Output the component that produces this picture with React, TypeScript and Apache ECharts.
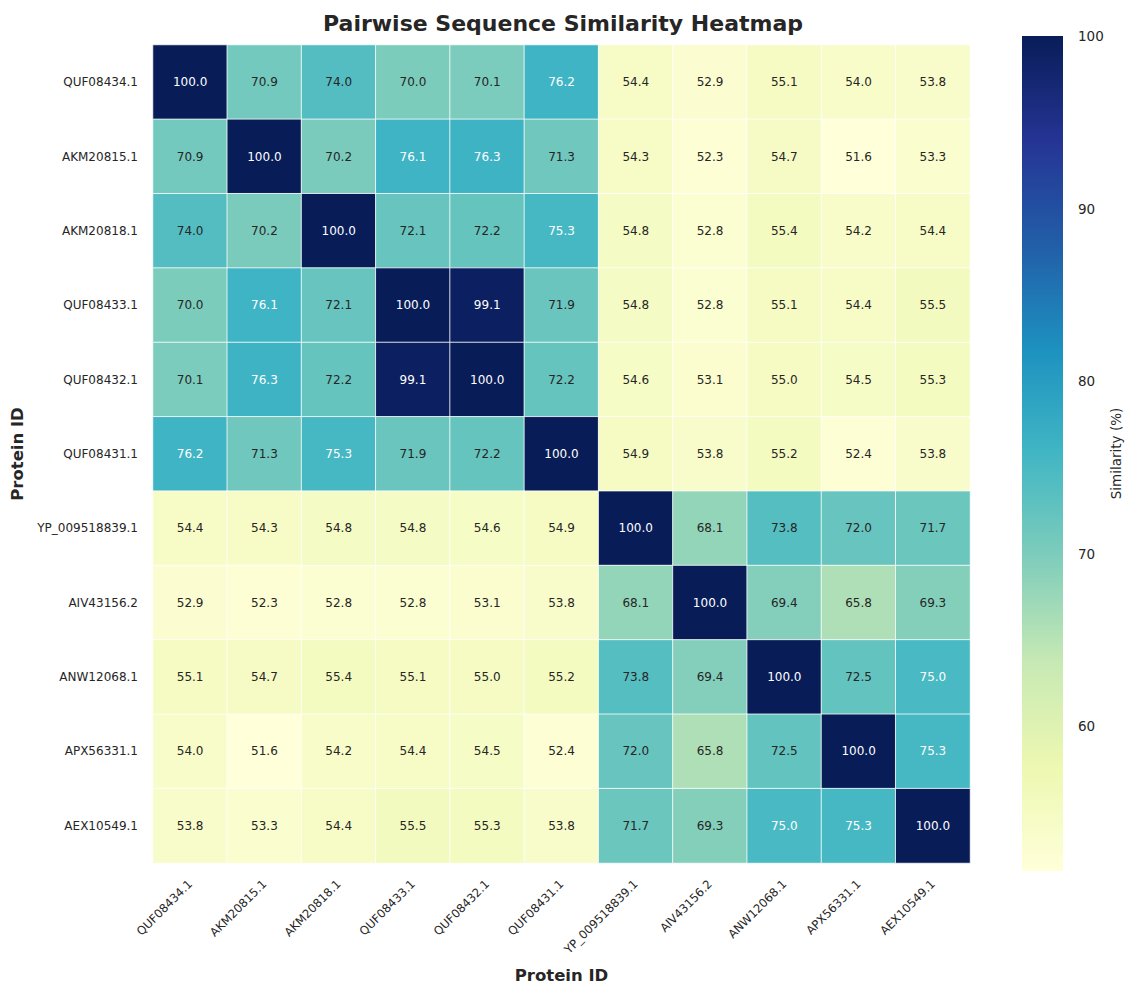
import React, { useEffect, useRef } from "react";
import * as echarts from "echarts";

const proteins = [
  "QUF08434.1",
  "AKM20815.1",
  "AKM20818.1",
  "QUF08433.1",
  "QUF08432.1",
  "QUF08431.1",
  "YP_009518839.1",
  "AIV43156.2",
  "ANW12068.1",
  "APX56331.1",
  "AEX10549.1",
];

const rowQUF08434 = [100.0, 70.9, 74.0, 70.0, 70.1, 76.2, 54.4, 52.9, 55.1, 54.0, 53.8];
const rowAKM20815 = [70.9, 100.0, 70.2, 76.1, 76.3, 71.3, 54.3, 52.3, 54.7, 51.6, 53.3];
const rowAKM20818 = [74.0, 70.2, 100.0, 72.1, 72.2, 75.3, 54.8, 52.8, 55.4, 54.2, 54.4];
const rowQUF08433 = [70.0, 76.1, 72.1, 100.0, 99.1, 71.9, 54.8, 52.8, 55.1, 54.4, 55.5];
const rowQUF08432 = [70.1, 76.3, 72.2, 99.1, 100.0, 72.2, 54.6, 53.1, 55.0, 54.5, 55.3];
const rowQUF08431 = [76.2, 71.3, 75.3, 71.9, 72.2, 100.0, 54.9, 53.8, 55.2, 52.4, 53.8];
const rowYP009518839 = [54.4, 54.3, 54.8, 54.8, 54.6, 54.9, 100.0, 68.1, 73.8, 72.0, 71.7];
const rowAIV43156 = [52.9, 52.3, 52.8, 52.8, 53.1, 53.8, 68.1, 100.0, 69.4, 65.8, 69.3];
const rowANW12068 = [55.1, 54.7, 55.4, 55.1, 55.0, 55.2, 73.8, 69.4, 100.0, 72.5, 75.0];
const rowAPX56331 = [54.0, 51.6, 54.2, 54.4, 54.5, 52.4, 72.0, 65.8, 72.5, 100.0, 75.3];
const rowAEX10549 = [53.8, 53.3, 54.4, 55.5, 55.3, 53.8, 71.7, 69.3, 75.0, 75.3, 100.0];

const matrix = [
  rowQUF08434,
  rowAKM20815,
  rowAKM20818,
  rowQUF08433,
  rowQUF08432,
  rowQUF08431,
  rowYP009518839,
  rowAIV43156,
  rowANW12068,
  rowAPX56331,
  rowAEX10549,
];

const colorbarTicks = [60, 70, 80, 90, 100];

const ylgnbu = [
  "#ffffd9",
  "#edf8b1",
  "#c7e9b4",
  "#7fcdbb",
  "#41b6c4",
  "#1d91c0",
  "#225ea8",
  "#253494",
  "#081d58",
];

const FONT = "DejaVu Sans";
const TEXT = "#262626";

function hexToRgb(h: string) {
  return [parseInt(h.slice(1, 3), 16), parseInt(h.slice(3, 5), 16), parseInt(h.slice(5, 7), 16)];
}

function cmap(t: number) {
  const tt = Math.max(0, Math.min(1, t)) * (ylgnbu.length - 1);
  const i = Math.min(ylgnbu.length - 2, Math.floor(tt));
  const f = tt - i;
  const a = hexToRgb(ylgnbu[i]);
  const b = hexToRgb(ylgnbu[i + 1]);
  return a.map((v, k) => v + (b[k] - v) * f);
}

function luminance(rgb: number[]) {
  const lin = rgb.map((c) => {
    const s = c / 255;
    return s <= 0.03928 ? s / 12.92 : Math.pow((s + 0.055) / 1.055, 2.4);
  });
  return 0.2126 * lin[0] + 0.7152 * lin[1] + 0.0722 * lin[2];
}

export default function App() {
  const ref = useRef<HTMLDivElement>(null);

  useEffect(() => {
    if (!ref.current) return;
    const chart = echarts.init(ref.current, null, { renderer: "svg" });

    const all = matrix.flat();
    const vmin = Math.min(...all);
    const vmax = Math.max(...all);

    const data: any[] = [];
    matrix.forEach((row, r) => {
      row.forEach((v, c) => {
        const lum = luminance(cmap((v - vmin) / (vmax - vmin)));
        data.push({
          value: [c, r, v],
          label: { color: lum > 0.408 ? TEXT : "#ffffff" },
        });
      });
    });

    const stops = ylgnbu.map((color, i) => ({ offset: i / (ylgnbu.length - 1), color }));

    chart.setOption({
      animation: false,
      backgroundColor: "#ffffff",
      textStyle: { fontFamily: FONT },
      title: {
        text: "Pairwise Sequence Similarity Heatmap",
        left: 318,
        top: 7,
        textStyle: { fontFamily: FONT, fontWeight: "bold", fontSize: 22, color: TEXT },
      },
      grid: [
        { left: 153, top: 45, width: 817, height: 818 },
        { left: 1022, top: 36, width: 41, height: 835 },
      ],
      xAxis: [
        {
          type: "category",
          gridIndex: 0,
          data: proteins,
          position: "bottom",
          axisLine: { show: false },
          axisTick: { show: false },
          splitLine: { show: false },
          axisLabel: {
            interval: 0,
            rotate: 45,
            margin: 19,
            fontSize: 11.7,
            fontFamily: FONT,
            color: TEXT,
          },
          name: "Protein ID",
          nameLocation: "middle",
          nameGap: 104,
          nameTextStyle: { fontFamily: FONT, fontWeight: "bold", fontSize: 16.5, color: TEXT },
        },
        {
          type: "value",
          gridIndex: 1,
          min: 0,
          max: 1,
          show: false,
        },
      ],
      yAxis: [
        {
          type: "category",
          gridIndex: 0,
          data: proteins,
          inverse: true,
          axisLine: { show: false },
          axisTick: { show: false },
          splitLine: { show: false },
          axisLabel: {
            interval: 0,
            margin: 15,
            fontSize: 12,
            fontFamily: FONT,
            color: TEXT,
          },
          name: "Protein ID",
          nameLocation: "middle",
          nameRotate: 90,
          nameGap: 125,
          nameTextStyle: { fontFamily: FONT, fontWeight: "bold", fontSize: 16.5, color: TEXT },
        },
        {
          type: "value",
          gridIndex: 1,
          min: vmin,
          max: vmax,
          position: "right",
          axisLine: { show: false },
          splitLine: { show: false },
          axisTick: {
            show: true,
            length: 6,
            customValues: colorbarTicks,
            lineStyle: { color: TEXT, width: 1 },
          },
          axisLabel: {
            customValues: colorbarTicks,
            margin: 15,
            fontSize: 13.5,
            fontFamily: FONT,
            color: TEXT,
          },
          name: "Similarity (%)",
          nameLocation: "middle",
          nameRotate: 90,
          nameGap: 46,
          nameTextStyle: { fontFamily: FONT, fontSize: 13.5, color: TEXT },
        },
      ],
      visualMap: {
        type: "continuous",
        show: false,
        min: vmin,
        max: vmax,
        dimension: 2,
        seriesIndex: 0,
        inRange: { color: ylgnbu },
      },
      series: [
        {
          type: "heatmap",
          xAxisIndex: 0,
          yAxisIndex: 0,
          data,
          itemStyle: { borderColor: "#ffffff", borderWidth: 0.8 },
          label: {
            show: true,
            fontSize: 12,
            fontFamily: FONT,
            formatter: (p: any) => Number(p.value[2]).toFixed(1),
          },
          emphasis: { disabled: true },
        },
        {
          type: "custom",
          xAxisIndex: 1,
          yAxisIndex: 1,
          data: [[0, vmin, vmax]],
          encode: { x: 0, y: [1, 2] },
          renderItem: (params: any, api: any) => {
            const lo = api.value(1);
            const hi = api.value(2);
            const p0 = api.coord([0, lo]);
            const p1 = api.coord([1, hi]);
            return {
              type: "rect",
              shape: { x: p0[0], y: p1[1], width: p1[0] - p0[0], height: p0[1] - p1[1] },
              style: { fill: new echarts.graphic.LinearGradient(0, 1, 0, 0, stops) },
            };
          },
        },
      ],
    });

    return () => chart.dispose();
  }, []);

  return (
    <div
      ref={ref}
      style={{ position: "fixed", left: 0, top: 0, width: 1135, height: 994, background: "#fff" }}
    />
  );
}
